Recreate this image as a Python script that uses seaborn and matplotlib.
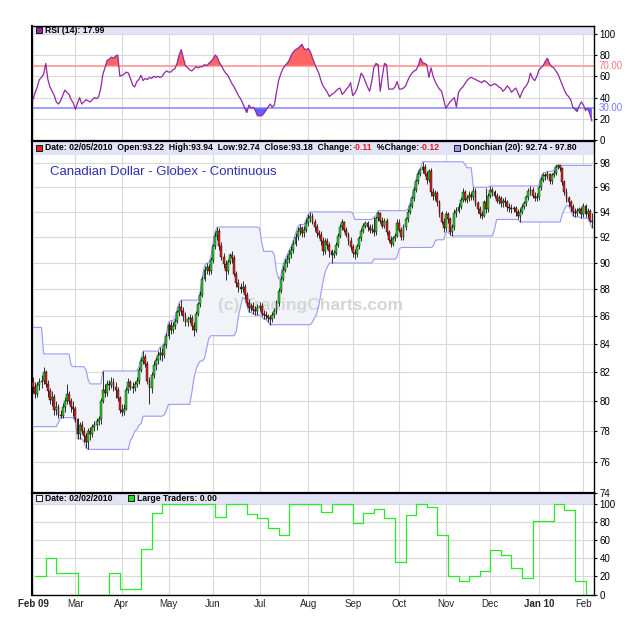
import numpy as np
import pandas as pd
import matplotlib
matplotlib.use("Agg")
import matplotlib.pyplot as plt
import matplotlib.ticker as mticker
import matplotlib.transforms as mtrans
import seaborn as sns

# Canadian Dollar - Globex - Continuous, daily bars Feb 2 2009 .. Feb 5 2010
# one row = one trading week (Mon..Fri)
closes = [
    81.0, 80.5, 81.1, 81.3, 81.4,   82.0, 81.2, 80.7, 80.1, 80.3,
    79.4, 79.6, 79.1, 79.0, 79.6,   80.0, 80.5, 80.0, 79.6, 79.5,
    78.8, 77.8, 78.4, 78.0, 77.7,   77.3, 78.0, 77.8, 78.3, 78.4,
    78.7, 78.8, 80.0, 80.8, 80.6,   81.2, 81.1, 81.3, 81.0, 80.8,
    80.2, 79.4, 79.3, 79.5, 80.8,   81.3, 81.0, 80.9, 81.2, 81.4,
    82.2, 82.8, 83.1, 82.6, 81.4,   80.9, 81.8, 82.5, 82.9, 83.2,
    83.4, 83.2, 83.9, 84.6, 85.4,   85.0, 85.3, 85.7, 86.3, 86.7,
    86.4, 86.0, 85.6, 85.8, 85.9,   85.3, 85.0, 86.2, 86.9, 87.6,
    88.8, 89.5, 89.7, 89.4, 90.2,   91.3, 92.1, 92.5, 91.3, 90.5,
    89.9, 89.4, 90.1, 90.6, 90.4,   89.2, 88.5, 88.2, 88.0, 88.2,
    87.6, 87.0, 86.6, 86.8, 86.5,   86.4, 86.6, 86.8, 86.2, 86.1,
    86.0, 85.9, 85.8, 86.1, 86.4,   87.0, 87.9, 88.8, 89.5, 90.0,
    90.3, 90.7, 91.0, 91.5, 92.0,   92.5, 92.7, 92.3, 92.6, 93.1,
    93.5, 93.7, 93.2, 92.8, 92.3,   92.2, 91.7, 90.9, 91.7, 91.4,
    90.9, 90.6, 90.8, 91.4, 92.1,   92.8, 93.2, 92.6, 92.2, 91.7,
    91.2, 90.8, 90.7, 91.3, 91.9,   92.5, 92.9, 93.1, 92.8, 92.6,
    92.6, 92.4, 93.5, 93.9, 93.3,   92.9, 93.3, 92.4, 91.8, 91.5,
    91.9, 92.1, 93.1, 92.6, 92.0,   92.8, 93.4, 94.0, 94.5, 95.1,
    95.8, 96.5, 97.1, 97.4, 97.7,   97.1, 96.6, 97.3, 95.6, 95.3,
    95.5, 94.8, 93.9, 93.2, 92.7,   93.8, 93.4, 92.4, 92.8, 93.9,
    94.1, 94.4, 95.0, 95.6, 95.0,   95.1, 95.4, 95.2, 95.7, 94.7,
    94.2, 93.8, 93.7, 94.8, 94.2,   95.3, 95.8, 95.6, 95.3, 94.9,
    95.1, 94.7, 94.9, 94.8, 94.4,   94.3, 94.2, 94.3, 94.0, 93.7,
    94.0, 94.4, 94.7, 95.2, 95.7,   95.8, 95.3, 95.1, 95.2, 96.0,
    96.6, 97.0, 96.9, 97.1, 96.5,   97.0, 97.2, 97.7, 97.8, 97.6,
    96.4, 95.6, 95.1, 94.8, 94.4,   94.0, 93.9, 94.1, 94.2, 93.8,
    94.5, 93.8, 94.1, 93.29, 93.18,
]
highs = [
    81.7, 81.3, 81.3, 81.6, 81.8,   82.4, 82.2, 81.5, 80.9, 80.7,
    80.5, 80.0, 79.8, 79.4, 79.9,   80.3, 81.2, 80.7, 80.2, 80.0,
    79.7, 78.9, 78.6, 78.7, 78.3,   77.9, 78.2, 78.3, 78.5, 78.7,
    78.9, 79.0, 80.2, 82.1, 81.2,   81.5, 81.5, 81.7, 81.6, 81.3,
    81.0, 80.4, 79.8, 79.8, 81.0,   81.6, 81.5, 81.3, 81.4, 81.7,
    82.4, 83.0, 83.5, 83.3, 82.8,   81.7, 82.0, 82.8, 83.1, 83.5,
    83.8, 83.7, 84.1, 84.8, 85.6,   85.7, 85.6, 85.9, 86.5, 87.0,
    87.2, 86.7, 86.3, 86.0, 86.2,   86.1, 85.6, 86.4, 87.1, 87.9,
    89.0, 89.8, 90.0, 89.9, 90.5,   91.5, 92.4, 92.8, 92.7, 91.6,
    90.8, 90.2, 90.3, 90.8, 90.9,   90.6, 89.4, 88.8, 88.5, 88.6,
    88.4, 87.8, 87.3, 87.0, 87.1,   86.8, 86.9, 87.1, 87.0, 86.5,
    86.4, 86.2, 86.1, 86.3, 86.6,   87.2, 88.1, 89.0, 89.8, 90.3,
    90.6, 91.0, 91.3, 91.8, 92.3,   92.8, 93.0, 92.9, 92.9, 93.4,
    93.8, 94.0, 93.9, 93.4, 93.0,   92.6, 92.5, 92.0, 91.9, 91.9,
    91.6, 91.1, 91.0, 91.6, 92.3,   93.0, 93.4, 93.3, 92.8, 92.4,
    92.0, 91.5, 91.1, 91.5, 92.1,   92.7, 93.1, 93.3, 93.3, 93.0,
    93.0, 93.6, 93.7, 94.1, 94.0,   93.6, 93.5, 93.5, 92.6, 92.1,
    92.1, 92.3, 93.4, 93.4, 92.8,   93.0, 93.6, 94.2, 94.7, 95.3,
    96.0, 96.7, 97.3, 97.6, 98.1,   97.9, 97.3, 97.5, 97.6, 95.9,
    95.8, 95.7, 95.0, 94.1, 93.5,   94.1, 94.0, 93.6, 93.0, 94.2,
    94.4, 94.7, 95.2, 95.9, 95.8,   95.4, 95.7, 95.6, 96.0, 95.9,
    94.9, 94.5, 94.1, 95.0, 95.9,   95.5, 96.1, 96.0, 95.8, 95.5,
    95.4, 95.3, 95.1, 95.2, 95.0,   94.7, 94.6, 94.5, 94.5, 94.2,
    94.3, 94.6, 94.9, 95.4, 95.9,   96.1, 96.0, 95.6, 95.5, 96.2,
    96.8, 97.2, 97.2, 97.3, 97.2,   97.2, 97.4, 97.8, 97.8, 97.8,
    97.7, 96.6, 95.9, 95.3, 95.0,   94.6, 94.3, 94.3, 94.4, 94.4,
    94.7, 94.6, 94.3, 94.2, 93.94,
]
lows = [
    80.6, 80.2, 80.3, 80.8, 80.9,   81.2, 81.0, 80.3, 79.8, 79.7,
    79.1, 79.1, 78.9, 78.9, 78.9,   79.3, 79.8, 79.8, 79.3, 79.0,
    78.6, 77.5, 77.5, 77.8, 77.3,   76.9, 76.8, 77.4, 77.6, 78.0,
    78.1, 78.4, 78.5, 79.9, 80.3,   80.4, 80.8, 80.9, 80.7, 80.2,
    80.0, 79.2, 79.0, 79.1, 79.4,   80.6, 80.8, 80.6, 80.7, 81.0,
    81.2, 82.0, 82.6, 82.4, 81.2,   79.8, 80.6, 81.6, 82.2, 82.6,
    82.9, 82.8, 83.0, 83.7, 84.4,   84.7, 84.8, 85.1, 85.5, 86.0,
    86.1, 85.7, 85.3, 85.3, 85.5,   85.0, 84.6, 84.9, 86.0, 86.7,
    87.4, 88.6, 89.2, 89.1, 89.2,   90.0, 91.1, 91.8, 91.0, 90.2,
    89.6, 88.7, 89.2, 89.9, 90.0,   89.0, 88.2, 87.8, 87.7, 87.8,
    87.3, 86.8, 86.3, 86.4, 86.2,   86.1, 86.1, 86.4, 86.0, 85.8,
    85.8, 85.6, 85.4, 85.6, 85.9,   86.2, 86.8, 87.7, 88.6, 89.3,
    89.7, 90.0, 90.4, 90.8, 91.3,   91.8, 92.2, 92.0, 92.0, 92.4,
    92.9, 93.2, 93.0, 92.5, 92.0,   91.9, 91.4, 90.6, 90.7, 91.1,
    90.5, 90.0, 90.4, 90.6, 91.2,   91.9, 92.6, 92.4, 92.0, 91.4,
    91.0, 90.5, 90.3, 90.5, 91.1,   91.7, 92.3, 92.7, 92.5, 92.3,
    92.3, 92.1, 92.2, 93.3, 93.1,   92.7, 92.7, 92.2, 91.6, 91.2,
    91.3, 91.7, 92.0, 92.4, 91.8,   91.8, 92.6, 93.2, 93.8, 94.3,
    94.9, 95.6, 96.3, 96.9, 97.2,   96.9, 96.3, 96.4, 95.3, 95.0,
    95.0, 94.5, 93.6, 93.0, 92.4,   92.5, 93.1, 92.2, 92.1, 92.6,
    93.6, 93.9, 94.2, 94.8, 94.8,   94.7, 94.9, 95.0, 95.0, 94.5,
    93.9, 93.5, 93.4, 93.6, 93.9,   94.0, 95.1, 95.3, 95.1, 94.7,
    94.6, 94.4, 94.4, 94.5, 94.1,   94.0, 93.9, 94.0, 93.7, 93.4,
    93.2, 93.8, 94.2, 94.5, 95.0,   95.4, 95.1, 94.9, 94.9, 95.0,
    95.8, 96.4, 96.6, 96.7, 96.3,   96.3, 96.8, 97.0, 97.5, 97.3,
    96.2, 95.4, 94.8, 94.5, 94.1,   93.7, 93.6, 93.7, 93.9, 93.5,
    93.6, 93.6, 93.5, 93.2, 92.74,
]
first_open = 81.3

# the 19 sessions before Feb 2 2009, only needed to seed the 20-day channel
jan09_high = [84.6, 84.1, 83.9, 83.2, 85.2, 83.1, 82.9, 81.6, 80.8, 80.4,
              80.1, 79.6, 79.9, 80.6, 81.4, 82.1, 82.6, 83.3, 82.5]
jan09_low = [83.2, 82.8, 82.5, 81.9, 82.6, 81.7, 80.2, 79.4, 79.0, 78.8,
             78.6, 78.3, 78.6, 79.3, 80.1, 80.7, 81.0, 81.6, 80.9]

rsi = [
    38, 45, 50, 57, 59,   62, 72, 57, 50, 46,   42, 36, 34, 37, 42,
    47, 45, 43, 38, 35,   29, 35, 40, 34, 36,   38, 37, 36, 38, 40,
    39, 41, 49, 62, 68,   75, 76, 78, 77, 79,   80, 60, 61, 62, 64,
    63, 58, 52, 50, 55,   57, 61, 56, 58, 57,   59, 58, 60, 59, 60,
    59, 60, 63, 65, 64,   64, 66, 67, 72, 80,   85, 77, 70, 68, 66,
    65, 67, 69, 68, 69,   69, 71, 70, 72, 74,   76, 80, 78, 73, 70,
    66, 63, 61, 57, 53,   50, 46, 42, 39, 35,   30, 26, 33, 30, 31,
    28, 23, 23, 23, 25,   28, 31, 34, 31, 33,   45, 56, 62, 67, 70,
    72, 75, 80, 83, 85,   86, 88, 90, 86, 85,   86, 83, 77, 72, 67,
    63, 56, 51, 48, 45,   41, 43, 44, 46, 48,   49, 43, 45, 48, 50,
    54, 42, 44, 48, 55,   63, 60, 55, 50, 46,   55, 68, 72, 71, 46,
    60, 72, 71, 48, 48,   48, 50, 55, 48, 48,   49, 51, 56, 60, 63,
    65, 66, 70, 77, 73,   72, 71, 59, 68, 60,   55, 51, 48, 46, 38,
    30, 33, 36, 38, 40,   31, 45, 48, 50, 53,   56, 58, 59, 58, 57,
    56, 55, 54, 56, 55,   53, 51, 52, 53, 52,   50, 49, 46, 48, 51,
    49, 45, 47, 49, 45,   40, 45, 49, 51, 55,   63, 58, 56, 60, 66,
    68, 70, 74, 77, 72,   69, 68, 65, 62, 57,   52, 47, 43, 41, 38,
    31, 29, 27, 32, 36,   33, 28, 30, 25, 17.99,
]

# weekly Large Traders index (Tuesday reports, Feb 3 2009 .. Feb 2 2010)
large_traders = [21, 40, 24, 24, 0, 0, 0, 24, 6, 6, 50, 90, 100, 100, 100,
                 100, 100, 86, 100, 100, 89, 84, 73, 66, 100, 100, 100, 91,
                 100, 100, 79, 90, 94, 84, 36, 88, 100, 97, 66, 20, 15, 21,
                 26, 49, 44, 29, 18, 81, 81, 100, 93, 15, 0]

month_labels = ["Feb 09", "Mar", "Apr", "May", "Jun", "Jul", "Aug", "Sep",
                "Oct", "Nov", "Dec", "Jan 10", "Feb"]

dates = pd.bdate_range("2009-02-02", "2010-02-05")
df = pd.DataFrame({"x": np.arange(len(dates)), "close": closes,
                   "high": highs, "low": lows, "rsi": rsi})
df["open"] = [first_open] + closes[:-1]
df["high"] = df[["high", "open", "close"]].max(axis=1)
df["low"] = df[["low", "open", "close"]].min(axis=1)
n0 = len(jan09_high)
df["upper"] = pd.Series(jan09_high + list(df.high)).rolling(20).max().to_numpy()[n0:]
df["lower"] = pd.Series(jan09_low + list(df.low)).rolling(20).min().to_numpy()[n0:]

report_dates = pd.date_range("2009-02-03", "2010-02-02", freq="W-TUE")
lt = pd.DataFrame({"x": dates.get_indexer(report_dates), "value": large_traders})

month_pos = [0] + list(np.where(dates.month[1:] != dates.month[:-1])[0] + 1)

# colours
GRID = "#d9d9d9"
BAND = "#e3e3f6"
GREEN = "#2ad52a"
RED = "#e42020"
PURPLE = "#8e2a9e"
DONCH = "#9a9af2"

sns.set_style("white")
plt.rcParams["font.family"] = ["Liberation Sans", "DejaVu Sans"]

fig = plt.figure(figsize=(6.25, 6.23), dpi=100)
L, W = 32 / 625, 562 / 625
ax_rsi = fig.add_axes([L, 1 - 141 / 623, W, 115 / 623])
ax_px = fig.add_axes([L, 1 - 493 / 623, W, 352 / 623], sharex=ax_rsi)
ax_lt = fig.add_axes([L, 1 - 595 / 623, W, 102 / 623], sharex=ax_rsi)

# ---- RSI panel
sns.lineplot(data=df, x="x", y="rsi", ax=ax_rsi, color=PURPLE, lw=0.9, zorder=4)
ax_rsi.fill_between(df.x, 70, df.rsi, where=df.rsi >= 70, interpolate=True,
                    color="#ff6464", lw=0, zorder=3)
ax_rsi.fill_between(df.x, 30, df.rsi, where=df.rsi <= 30, interpolate=True,
                    color="#6060ff", lw=0, zorder=3)
ax_rsi.axhline(70, color="#ff9c9c", lw=1.3, zorder=2)
ax_rsi.axhline(30, color="#9696ff", lw=1.3, zorder=2)
ax_rsi.axhspan(100, 107.5, color=BAND, lw=0, zorder=1)
ax_rsi.set_ylim(-0.7, 107.2)
ax_rsi.set_yticks([0, 20, 40, 60, 80, 100])

# ---- price panel
ax_px.set_yscale("log")
ax_px.fill_between(df.x, df.lower, df.upper, color="#f1f3f9", lw=0, zorder=1)
sns.lineplot(data=df, x="x", y="upper", ax=ax_px, color=DONCH, lw=0.8, zorder=2)
sns.lineplot(data=df, x="x", y="lower", ax=ax_px, color=DONCH, lw=0.8, zorder=2)
ax_px.vlines(df.x, df.low, df.high, color="#111111", lw=0.6, zorder=3)
body = (df.close - df.open).abs().clip(lower=0.04)
ax_px.bar(df.x, body, bottom=df[["open", "close"]].min(axis=1), width=0.9,
          color=np.where(df.close >= df.open, GREEN, RED),
          edgecolor="black", linewidth=0.3, zorder=4)
ax_px.axhspan(98.67, 100.5, color=BAND, lw=0, zorder=1)
ax_px.set_ylim(74.0, 99.85)
ax_px.yaxis.set_major_locator(mticker.FixedLocator(list(range(74, 100, 2))))
ax_px.yaxis.set_major_formatter(mticker.FormatStrFormatter("%d"))
ax_px.yaxis.set_minor_locator(mticker.NullLocator())
ax_px.text(0.495, 0.534, "(c) TradingCharts.com", transform=ax_px.transAxes,
           ha="center", va="center", fontsize=12.5, fontweight="bold",
           color="#d6d6d6", zorder=1.5)
ax_px.text(18 / 562, (493 - 172) / 352, "Canadian Dollar - Globex - Continuous",
           transform=ax_px.transAxes, ha="left", va="center", fontsize=9.5,
           color="#2f2fb3", zorder=6)

# ---- large traders panel
sns.lineplot(data=lt, x="x", y="value", ax=ax_lt, color="#25ec25", lw=0.9,
             drawstyle="steps-post", zorder=3)
ax_lt.axhspan(100, 115, color=BAND, lw=0, zorder=1)
ax_lt.set_ylim(-0.5, 112)
ax_lt.set_yticks([0, 20, 40, 60, 80, 100])

# ---- shared styling
for ax in (ax_rsi, ax_px, ax_lt):
    ax.set(xlabel="", ylabel="")
    ax.set_xlim(-0.5, 265)
    ax.set_xticks(month_pos)
    ax.grid(True, color=GRID, lw=0.8, zorder=0)
    ax.set_axisbelow(True)
    ax.yaxis.tick_right()
    ax.tick_params(axis="y", which="both", right=True, length=2.5, width=0.8,
                   pad=1.5, labelsize=7, colors="black")
    for s in ax.spines.values():
        s.set_visible(True)
        s.set_color("black")
        s.set_linewidth(1.0)
    ax.spines["left"].set_linewidth(1.5)
ax_px.spines["top"].set_linewidth(1.6)
ax_lt.spines["top"].set_linewidth(1.6)
ax_rsi.tick_params(axis="x", labelbottom=False, length=0)
ax_px.tick_params(axis="x", labelbottom=False, length=0)
ax_lt.tick_params(axis="x", length=0, pad=3, labelsize=7)
ax_lt.set_xticklabels(month_labels)
for i in (0, 11):
    ax_lt.get_xticklabels()[i].set_fontweight("bold")

tr_rsi = mtrans.blended_transform_factory(ax_rsi.transAxes, ax_rsi.transData)
ax_rsi.text(1.008, 70, "70.00", transform=tr_rsi, color="#ff7878", fontsize=7,
            va="center", ha="left")
ax_rsi.text(1.008, 30, "30.00", transform=tr_rsi, color="#7878ff", fontsize=7,
            va="center", ha="left")


def header(ax, y, x0, parts, square, hollow=False):
    tr = mtrans.blended_transform_factory(ax.transAxes, ax.transData)
    ax.scatter([x0], [y], marker="s", s=16, transform=tr, clip_on=False,
               color="white" if hollow else square, edgecolor="black",
               linewidth=0.6, zorder=7)
    kw = dict(fontsize=6.2, fontweight="bold", zorder=7)
    t = ax.text(x0 + 0.011, y, parts[0][0], color=parts[0][1], transform=tr,
                va="center", ha="left", **kw)
    for s, c in parts[1:]:
        t = ax.annotate(s, xy=(1, 0), xycoords=t, va="bottom", ha="left",
                        color=c, **kw)


header(ax_rsi, 103.4, 7 / 562, [("RSI (14): 17.99", "black")], PURPLE)
header(ax_px, 99.26, 7 / 562,
       [("Date: 02/05/2010  Open:93.22  High:93.94  Low:92.74  Close:93.18  Change:", "black"),
        ("-0.11", RED), ("  %Change:", "black"), ("-0.12", RED)], RED)
header(ax_px, 99.26, 425 / 562, [("Donchian (20): 92.74 - 97.80", "black")], DONCH)
header(ax_lt, 106, 7 / 562, [("Date: 02/02/2010", "black")], "white", hollow=True)
header(ax_lt, 106, 99 / 562, [("Large Traders: 0.00", "black")], "#22dd22")

fig.savefig("out.png", dpi=100)
